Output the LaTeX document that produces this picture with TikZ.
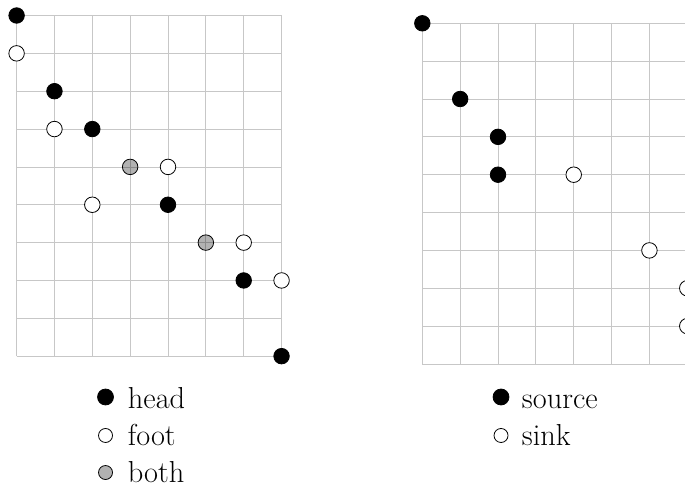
\documentclass[tikz,border=0pt]{standalone}
\begin{document}
\begin{tikzpicture}[x=1cm,y=1cm,
  gridline/.style={draw=black!22, line width=0.6pt},
  dotbase/.style={circle, inner sep=0pt, minimum size=0.41cm, draw=black, line width=0.6pt},
  headdot/.style={dotbase, fill=black},
  footdot/.style={dotbase, fill=white},
  bothdot/.style={dotbase, fill=black, fill opacity=0.3, draw opacity=1},
  legdot/.style={circle, inner sep=0pt, minimum size=0.37cm, draw=black, line width=0.6pt},
  leghead/.style={legdot, fill=black, minimum size=0.42cm},
  legfoot/.style={legdot, fill=white},
  legboth/.style={legdot, fill=black, fill opacity=0.3, draw opacity=1},
  legtext/.style={anchor=base west, inner sep=0pt, font=\fontsize{22.8}{27}\selectfont}
]
\clip (-0.4386,0.4095) rectangle (17.659,-12.457);
% left grid
\draw[gridline] (0,0) grid (7,-9);
\node[headdot] (lh1) at (0,0) {};
\node[footdot] (lf1) at (0,-1) {};
\node[headdot] (lh2) at (1,-2) {};
\node[footdot] (lf2) at (1,-3) {};
\node[headdot] (lh3) at (2,-3) {};
\node[bothdot] (lb1) at (3,-4) {};
\node[footdot] (lf3) at (4,-4) {};
\node[footdot] (lf4) at (2,-5) {};
\node[headdot] (lh4) at (4,-5) {};
\node[bothdot] (lb2) at (5,-6) {};
\node[footdot] (lf5) at (6,-6) {};
\node[headdot] (lh5) at (6,-7) {};
\node[footdot] (lf6) at (7,-7) {};
\node[headdot] (lh6) at (7,-9) {};
% right grid
\begin{scope}[shift={(10.719,-0.206)}]
\draw[gridline] (0,0) grid (7,-9);
\node[headdot] (rs1) at (0,0) {};
\node[headdot] (rs2) at (1,-2) {};
\node[headdot] (rs3) at (2,-3) {};
\node[headdot] (rs4) at (2,-4) {};
\node[footdot] (rk1) at (4,-4) {};
\node[footdot] (rk2) at (6,-6) {};
\node[footdot] (rk3) at (7,-7) {};
\node[footdot] (rk4) at (7,-8) {};
\end{scope}
% left legend
\node[leghead] (kh) at (2.349,-10.079) {};
\node[legtext] (th) at (2.935,-10.378) {head};
\node[legfoot] (kf) at (2.349,-11.096) {};
\node[legtext] (tf) at (2.935,-11.361) {foot};
\node[legboth] (kb) at (2.349,-12.074) {};
\node[legtext] (tb) at (2.935,-12.325) {both};
% right legend
\node[leghead] (ks) at (12.798,-10.079) {};
\node[legtext] (ts) at (13.345,-10.378) {source};
\node[legfoot] (kk) at (12.798,-11.096) {};
\node[legtext] (tk) at (13.345,-11.361) {sink};
\end{tikzpicture}
\end{document}
